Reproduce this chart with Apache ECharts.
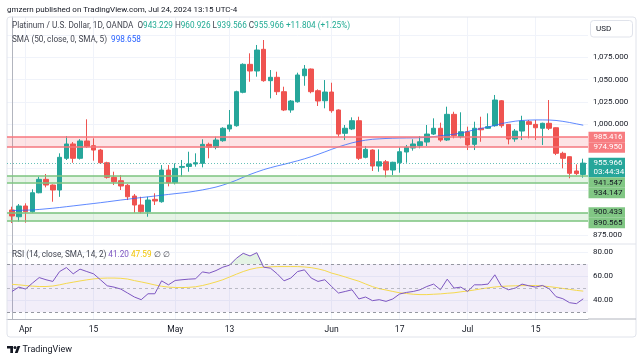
<!DOCTYPE html>
<html><head><meta charset="utf-8">
<script src="https://cdn.jsdelivr.net/npm/echarts@6/dist/echarts.min.js"></script>
<style>html,body{margin:0;padding:0;background:#fff}#c{width:643px;height:361px}</style>
</head><body><div id="c"></div>
<script>
// ---- data ----
const dates = ['03-28','03-29','04-01','04-02','04-03','04-04','04-05','04-08','04-09','04-10','04-11','04-12','04-15','04-16','04-17','04-18','04-19','04-22','04-23','04-24','04-25','04-26','04-29','04-30','05-01','05-02','05-03','05-06','05-07','05-08','05-09','05-10','05-13','05-14','05-15','05-16','05-17','05-20','05-21','05-22','05-23','05-24','05-27','05-28','05-29','05-30','05-31','06-03','06-04','06-05','06-06','06-07','06-10','06-11','06-12','06-13','06-14','06-17','06-18','06-19','06-20','06-21','06-24','06-25','06-26','06-27','06-28','07-01','07-02','07-03','07-04','07-05','07-08','07-09','07-10','07-11','07-12','07-15','07-16','07-17','07-18','07-19','07-22','07-23','07-24'];
const opens  = [903.2,895.6,907.7,901.2,922.6,937.7,931.3,925.7,961.4,977.5,961.4,980.9,975.6,970.7,956.4,940.0,936.2,931.0,918.9,908.8,901.2,915.2,912.5,948.2,934.0,951.2,952.2,955.0,955.7,977.1,973.8,981.2,994.4,998.1,1035.7,1067.2,1059.7,1084.1,1048.8,1052.6,1036.4,1015.8,1025.1,1054.4,1061.9,1037.5,1026.2,1036.0,1015.8,989.5,994.4,1003.7,962.5,970.7,952.7,957.5,948.2,956.4,968.5,973.0,975.6,979.7,988.7,995.2,982.0,1010.9,985.7,991.3,977.1,995.2,995.2,998.1,1026.2,999.6,983.1,992.1,1002.6,999.6,995.2,1000.8,995.8,967.0,963.2,947.1,943.229];
const highs  = [906.9,909.9,910.7,926.5,940.7,943.7,932.0,967.0,986.5,979.7,983.0,1005.3,983.9,972.0,957.5,946.3,942.6,932.4,921.2,918.1,918.1,922.0,953.8,953.8,955.7,959.5,968.8,967.0,982.8,979.0,985.7,996.4,1015.8,1037.5,1068.3,1079.6,1089.0,1094.6,1060.8,1058.9,1042.0,1027.0,1057.8,1066.4,1062.5,1039.0,1049.5,1046.5,1016.5,998.9,1007.5,1008.2,975.2,971.5,971.5,959.5,957.5,973.8,976.4,982.8,986.5,998.9,1006.4,1001.5,1019.5,1013.8,1013.2,997.0,1002.6,1008.2,1012.0,1032.7,1027.0,1000.0,994.4,1009.3,1004.5,1004.5,1001.5,1027.0,996.2,968.8,963.5,954.6,960.926];
const lows   = [888.5,890.0,888.9,900.1,922.0,928.7,912.5,918.0,959.5,956.4,960.0,973.0,958.7,955.0,938.5,931.3,925.7,914.4,900.1,899.4,895.6,908.8,911.4,929.8,932.0,940.7,946.3,952.0,951.2,961.4,971.5,980.0,991.3,997.0,1034.6,1047.6,1053.3,1047.6,1028.9,1032.7,1014.6,1012.7,1024.0,1043.1,1034.6,1020.3,1017.7,1012.7,985.7,982.0,993.2,959.5,961.4,947.1,946.3,940.0,942.6,945.2,956.4,970.0,972.6,975.2,987.6,980.0,980.9,983.9,983.9,970.7,970.7,980.0,994.5,997.0,995.8,977.1,980.0,982.0,983.9,982.0,976.4,993.2,965.0,950.1,938.9,942.6,939.566];
const closes = [896.4,907.7,901.2,922.6,937.7,931.3,925.7,962.5,977.5,961.4,980.9,974.5,970.7,956.4,940.0,935.0,930.2,918.1,908.8,901.2,914.4,913.3,948.2,934.0,950.0,952.2,955.0,956.4,977.1,973.8,982.0,995.2,998.9,1036.4,1067.2,1059.7,1083.3,1048.8,1052.6,1036.4,1015.8,1025.9,1055.2,1061.9,1036.4,1025.9,1036.0,1015.0,988.7,995.2,1003.7,961.4,971.5,952.7,957.5,948.2,956.9,968.8,973.8,977.5,980.0,988.7,995.2,982.0,1010.9,986.8,991.3,976.4,995.2,993.5,997.0,1027.0,998.1,983.1,992.1,1003.4,999.6,995.8,1000.8,995.2,967.0,961.4,944.5,944.162,955.966];
const sma50  = [902.5,902.8,903.0,903.2,903.8,904.5,905.2,906.0,906.9,907.8,908.7,909.6,910.5,911.4,912.4,913.4,914.4,915.3,916.3,917.2,918.0,918.9,919.8,920.7,921.6,922.4,923.3,924.5,925.8,927.3,929.0,931.2,933.8,936.7,940.0,943.2,946.0,948.6,950.8,952.8,954.6,956.6,958.6,960.8,963.2,965.8,968.6,971.5,974.2,976.6,978.8,980.5,981.8,982.8,983.3,983.7,984.0,984.2,984.3,984.4,984.6,985.0,985.8,986.8,987.6,988.5,989.8,991.6,993.5,995.0,996.6,998.5,1000.5,1002.0,1003.2,1004.0,1004.4,1004.6,1004.6,1004.5,1004.0,1003.0,1001.7,1000.2,998.658];
const rsi    = [47.3,50.9,49.3,54.2,58.8,57.0,55.6,63.8,67.1,61.9,65.8,63.8,61.9,57.0,52.0,50.9,49.3,46.0,42.7,40.5,45.4,45.4,56.1,52.8,56.4,57.0,57.5,57.8,63.5,62.5,64.6,67.4,69.1,74.8,78.9,76.7,79.4,67.4,66.6,61.9,56.1,58.4,63.8,65.2,58.4,55.6,57.0,51.4,46.0,47.3,48.7,41.1,42.7,39.7,40.5,39.1,41.1,45.2,46.5,47.3,48.7,51.4,53.4,48.7,57.5,50.1,50.9,47.3,52.8,52.8,53.4,61.1,51.4,48.7,50.1,53.4,52.0,50.9,52.3,49.5,43.0,41.3,38.0,37.2,41.20];
const rsiMa  = [53.2,52.8,52.2,51.7,51.4,51.4,51.8,52.8,54.0,55.0,56.0,56.9,57.7,58.2,58.4,58.4,58.2,57.6,56.3,55.2,54.0,52.7,51.6,50.9,50.6,50.5,50.7,51.2,52.2,53.6,55.2,57.0,59.3,61.6,63.8,65.6,66.8,67.4,67.7,67.9,67.9,67.9,67.9,67.6,67.0,66.0,64.6,62.5,61.0,59.3,57.5,55.8,53.5,51.3,49.6,48.5,47.3,46.2,45.6,45.0,44.7,44.7,45.0,45.3,45.8,46.2,47.0,47.7,48.5,49.5,50.3,51.0,51.5,51.8,52.0,52.1,52.2,52.2,51.8,51.3,50.6,49.8,49.0,48.2,47.59];
const timeTickIdx = [2,12,24,32,47,57,67,77];
const timeTickLabels = ['Apr','15','May','13','Jun','17','Jul','15'];
const priceGrid = [875,900,925,950,975,1000,1025,1050,1075,1100];
const priceLabels = [875,1000,1025,1050,1075];
const rsiLabels = [40,60,80];
const rsiBands = [30,50,70];
const redZone = [974.950, 985.416];
const greenZones = [[934.147, 941.547],[890.565, 900.433]];
const lastPrice = 955.966;
const countdown = '03:44:34';

// ---- styles ----
const UP = '#26a69a', DOWN = '#ef5350';
const FONT = 'Roboto, "Noto Sans", sans-serif';
const GRIDC = '#f0f3fa';
const fmt3 = v => v.toLocaleString('en-US',{minimumFractionDigits:3, maximumFractionDigits:3});

const candleData = dates.map((d,i)=>[i, opens[i], closes[i], lows[i], highs[i]]);
const X0 = -0.735, X1 = 84.7;

const chart = echarts.init(document.getElementById('c'));
const option = {
  animation:false,
  backgroundColor:'#fff',
  grid:[
    {left:7, right:55, top:17, height:227},
    {left:7, right:55, top:244, height:75}
  ],
  xAxis:[
    {type:'value', gridIndex:0, min:X0, max:X1, axisLine:{show:false}, axisLabel:{show:false},
     axisTick:{show:false, customValues:timeTickIdx}, splitLine:{show:true, lineStyle:{color:GRIDC}}},
    {type:'value', gridIndex:1, min:X0, max:X1,
     axisLine:{show:true, lineStyle:{color:'#b2b5be', width:1}},
     axisTick:{show:false, customValues:timeTickIdx},
     axisLabel:{customValues:timeTickIdx, formatter:v=>timeTickLabels[timeTickIdx.indexOf(Math.round(v))]||'',
       fontSize:8.5, fontFamily:FONT, color:'#131722', margin:6},
     splitLine:{show:true, lineStyle:{color:GRIDC}}}
  ],
  yAxis:[
    {type:'value', gridIndex:0, position:'right', min:864.9, max:1120.5, scale:true,
     axisLine:{show:true, lineStyle:{color:'#b2b5be'}},
     axisTick:{show:false, customValues:priceGrid},
     axisLabel:{customValues:priceLabels, formatter:v=>fmt3(v), fontSize:8, fontFamily:FONT, color:'#131722', margin:5},
     splitLine:{show:true, lineStyle:{color:GRIDC}}},
    {type:'value', gridIndex:1, position:'right', min:24.5, max:86.6, scale:true,
     axisLine:{show:true, lineStyle:{color:'#b2b5be'}},
     axisTick:{show:false, customValues:rsiLabels},
     axisLabel:{customValues:rsiLabels, formatter:v=>v.toFixed(2), fontSize:8, fontFamily:FONT, color:'#131722', margin:5},
     splitLine:{show:true, lineStyle:{color:GRIDC}}}
  ],
  series:[
    {type:'candlestick', xAxisIndex:0, yAxisIndex:0, data:candleData, encode:{x:0, y:[1,2,3,4]},
     barWidth:5,
     itemStyle:{color:UP, color0:DOWN, borderColor:UP, borderColor0:DOWN, borderWidth:1},
     markArea:{silent:true, data:[
       [{yAxis:redZone[0], itemStyle:{color:'rgba(242,54,69,0.14)'}},{yAxis:redZone[1]}],
       [{yAxis:greenZones[0][0], itemStyle:{color:'rgba(76,175,80,0.14)'}},{yAxis:greenZones[0][1]}],
       [{yAxis:greenZones[1][0], itemStyle:{color:'rgba(76,175,80,0.14)'}},{yAxis:greenZones[1][1]}]
     ]},
     markLine:{silent:true, symbol:'none', label:{show:false}, data:[
       {yAxis:redZone[0], lineStyle:{color:'#f7767d', width:1.5, type:'solid'}},
       {yAxis:redZone[1], lineStyle:{color:'#f7767d', width:1.5, type:'solid'}},
       {yAxis:greenZones[0][0], lineStyle:{color:'#7cc47f', width:1.5, type:'solid'}},
       {yAxis:greenZones[0][1], lineStyle:{color:'#7cc47f', width:1.5, type:'solid'}},
       {yAxis:greenZones[1][0], lineStyle:{color:'#7cc47f', width:1.5, type:'solid'}},
       {yAxis:greenZones[1][1], lineStyle:{color:'#7cc47f', width:1.5, type:'solid'}},
       {yAxis:lastPrice, lineStyle:{color:'#26a69a', width:1, type:[1,2], opacity:0.7}}
     ]}
    },
    {type:'line', xAxisIndex:0, yAxisIndex:0, data:sma50.map((v,i)=>[i,v]), showSymbol:false,
     lineStyle:{color:'#2962ff', width:1, opacity:0.75}},
    {type:'line', xAxisIndex:1, yAxisIndex:1, data:[], 
     markArea:{silent:true, itemStyle:{color:'rgba(126,87,194,0.1)'}, data:[[{yAxis:rsiBands[0]},{yAxis:rsiBands[2]}]]},
     markLine:{silent:true, symbol:'none', label:{show:false}, data:[
       {yAxis:rsiBands[0], lineStyle:{color:'#9598a1', width:1, type:[3,3]}},
       {yAxis:rsiBands[1], lineStyle:{color:'rgba(149,152,161,0.6)', width:1, type:[3,3]}},
       {yAxis:rsiBands[2], lineStyle:{color:'#9598a1', width:1, type:[3,3]}}
     ]}},
    {type:'line', xAxisIndex:1, yAxisIndex:1, data:rsi.map((v,i)=>[i,Math.max(v,rsiBands[2])]), showSymbol:false, lineStyle:{opacity:0},
     areaStyle:{color:'rgba(76,175,80,0.22)', origin:rsiBands[2]}, silent:true},
    {type:'line', xAxisIndex:1, yAxisIndex:1, data:rsiMa.map((v,i)=>[i,v]), showSymbol:false,
     lineStyle:{color:'#f5d94e', width:1}},
    {type:'line', xAxisIndex:1, yAxisIndex:1, data:rsi.map((v,i)=>[i,v]), showSymbol:false,
     lineStyle:{color:'#7e57c2', width:1}}
  ]
};
chart.setOption(option);

// ---- chrome & labels ----
const g = [];
const gx = chart.convertToPixel({xAxisIndex:0}, X1);
g.push({type:'rect', shape:{x:7, y:17, width:629, height:320, r:3}, style:{fill:'none', stroke:'#e0e3eb', lineWidth:1}, z:1});
g.push({type:'line', shape:{x1:7, y1:244, x2:636, y2:244}, style:{stroke:'#e0e3eb', lineWidth:1}, z:5});
g.push({type:'line', shape:{x1:gx, y1:319, x2:636, y2:319}, style:{stroke:'#b2b5be', lineWidth:1}, z:5});
const F1 = '8px '+FONT, F2 = '8.2px '+FONT;
g.push({type:'text', x:7, y:10, style:{text:'gmzern published on TradingView.com, Jul 24, 2024 13:15 UTC-4', font:F1, fill:'#131722', verticalAlign:'middle'}, z:10});
const chg = closes[closes.length-1]-closes[closes.length-2];
const ohlc = '{g|Platinum / U.S. Dollar, 1D, OANDA  O}{v|'+opens[84].toFixed(3)+'} {g|H}{v|'+highs[84].toFixed(3)+'} {g|L}{v|'+lows[84].toFixed(3)+'} {g|C}{v|'+closes[84].toFixed(3)+'} {v|+'+chg.toFixed(3)+' (+'+(chg/closes[83]*100).toFixed(2)+'%)}';
g.push({type:'text', x:12, y:26, style:{text:ohlc, font:F2, verticalAlign:'middle',
  rich:{g:{fill:'#434651', font:F2}, v:{fill:'#22ab94', font:F2}}}, z:10});
g.push({type:'text', x:12, y:40, style:{text:'{g|SMA (50, close, 0, SMA, 5)}  {b|'+sma50[84].toFixed(3)+'}', font:F2, verticalAlign:'middle',
  rich:{g:{fill:'#434651', font:F2}, b:{fill:'#2962ff', font:F2}}}, z:10});
g.push({type:'text', x:12, y:255, style:{text:'{g|RSI (14, close, SMA, 14, 2)} {p|'+rsi[84].toFixed(2)+'} {y|'+rsiMa[84].toFixed(2)+'} {g|∅ ∅}', font:F2, verticalAlign:'middle',
  rich:{g:{fill:'#434651', font:F2}, p:{fill:'#7e57c2', font:F2}, y:{fill:'#f2c500', font:F2}}}, z:10});
g.push({type:'rect', shape:{x:590.5, y:20.5, width:42, height:16.5, r:3}, style:{fill:'#fff', stroke:'#e0e3eb', lineWidth:1}, z:10});
g.push({type:'text', x:596, y:29, style:{text:'USD', font:'8px '+FONT, fill:'#131722', verticalAlign:'middle'}, z:11});
const labs = [
  {v:redZone[1], bg:'#f77c80', fg:'#fff'},
  {v:redZone[0], bg:'#f77c80', fg:'#fff'},
  {v:lastPrice, bg:'#26a69a', fg:'#fff', sub:countdown},
  {v:greenZones[0][1], bg:'#81c784', fg:'#131722'},
  {v:greenZones[0][0], bg:'#81c784', fg:'#131722'},
  {v:greenZones[1][1], bg:'#81c784', fg:'#131722'},
  {v:greenZones[1][0], bg:'#81c784', fg:'#131722'}
].sort((a,b)=>b.v-a.v);
let prevBottom = -1e9;
labs.forEach(l=>{
  const y = chart.convertToPixel({yAxisIndex:0}, l.v);
  const h = l.sub ? 19.5 : 10.5;
  const top = Math.max(y-5.25, prevBottom);
  prevBottom = top + h;
  g.push({type:'rect', shape:{x:gx+0.5, y:top, width:36.5, height:h}, style:{fill:l.bg}, z:12});
  g.push({type:'text', x:gx+5.5, y:top+5.25, style:{text:fmt3(l.v), font:'8px '+FONT, fill:l.fg, verticalAlign:'middle'}, z:13});
  if (l.sub) g.push({type:'text', x:gx+5.5, y:top+14.5, style:{text:l.sub, font:'8px '+FONT, fill:l.fg, verticalAlign:'middle'}, z:13});
});
g.push({type:'polygon', shape:{points:[[7,346],[13,346],[13,353],[10.3,353],[10.3,348.6],[7,348.6]]}, style:{fill:'#131722'}, z:10});
g.push({type:'circle', shape:{cx:15, cy:347.6, r:1.5}, style:{fill:'#131722'}, z:10});
g.push({type:'polygon', shape:{points:[[17.5,346],[20.3,346],[17.6,353],[14.8,353]]}, style:{fill:'#131722'}, z:10});
g.push({type:'text', x:22.5, y:349.5, style:{text:'TradingView', font:'9px '+FONT, fill:'#131722', verticalAlign:'middle'}, z:10});
chart.setOption({graphic:g});
</script>
</body></html>
